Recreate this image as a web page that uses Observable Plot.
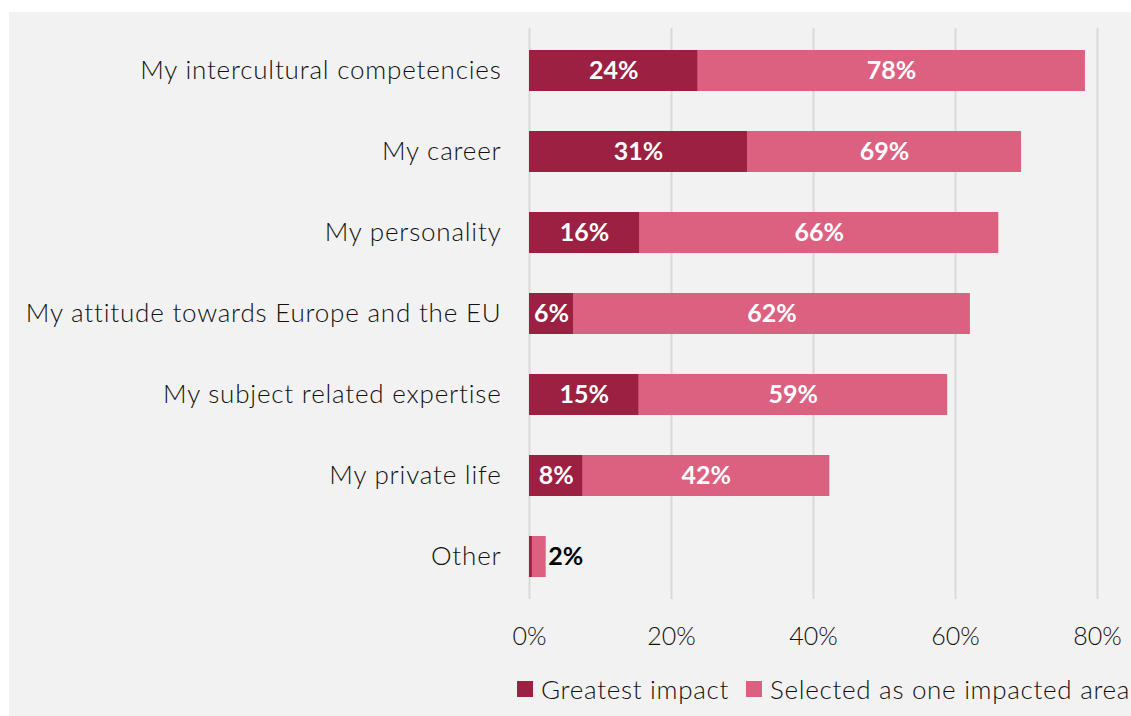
<!DOCTYPE html>
<html>
<head>
<meta charset="utf-8">
<script src="https://cdn.jsdelivr.net/npm/d3@7"></script>
<script src="https://cdn.jsdelivr.net/npm/@observablehq/plot@0.6"></script>
<style>
  body { margin: 0; background: #ffffff; }
  #panel { position: absolute; left: 9px; top: 12px; width: 1122px; height: 704px; background: #f2f2f2; overflow: hidden; font-family: Lato, "Open Sans", sans-serif; }
  #legend { position: absolute; left: 508px; top: 661px; display: flex; align-items: center; font-size: 26px; font-weight: 300; letter-spacing: 0.7px; color: #111111; white-space: nowrap; }
  .sw { width: 16px; height: 16px; display: inline-block; margin-right: 8px; }
  .item { display: flex; align-items: center; margin-right: 17px; }
  .ylab text { letter-spacing: 0.8px; }
</style>
</head>
<body>
<div id="panel">
  <div id="chart"></div>
  <div id="legend"></div>
</div>
<script>
const categories = [
  "My intercultural competencies",
  "My career",
  "My personality",
  "My attitude towards Europe and the EU",
  "My subject related expertise",
  "My private life",
  "Other"
];
const greatestImpact = [23.7, 30.7, 15.5, 6.2, 15.4, 7.5, 0.4];
const selectedArea   = [78.3, 69.3, 66.1, 62.1, 58.9, 42.3, 2.35];
const xTicks = [0, 20, 40, 60, 80];
const seriesNames = ["Greatest impact", "Selected as one impacted area"];
const colors = ["#9b2042", "#dc6181"];

const rows = categories.map((c, i) => ({ cat: c, g: greatestImpact[i], s: selectedArea[i] }));
const inside = rows.filter(d => d.s >= 10);
const outside = rows.filter(d => d.s < 10);
const darkLabels = rows.filter(d => d.g >= 3);

const chart = Plot.plot({
  width: 1122,
  height: 647,
  marginLeft: 520,
  marginRight: 34,
  marginTop: 16,
  marginBottom: 60,
  style: { background: "transparent", fontFamily: "Lato, 'Open Sans', sans-serif", color: "#111111" },
  x: { domain: [0, 80], ticks: xTicks, tickFormat: d => d + "%", label: null },
  y: { domain: categories, label: null, paddingInner: 0.5, paddingOuter: 0.25 },
  marks: [
    Plot.gridX(xTicks, { stroke: "#d9d9d9", strokeOpacity: 1, strokeWidth: 2 }),
    Plot.barX(rows, { y: "cat", x1: 0, x2: "s", fill: colors[1] }),
    Plot.barX(rows, { y: "cat", x1: 0, x2: "g", fill: colors[0] }),
    Plot.text(darkLabels, { y: "cat", x: d => d.g / 2, text: d => Math.round(d.g) + "%", fill: "white", fontWeight: "bold", fontSize: 25 }),
    Plot.text(inside, { y: "cat", x: d => (d.g + d.s) / 2, text: d => Math.round(d.s) + "%", fill: "white", fontWeight: "bold", fontSize: 25 }),
    Plot.text(outside, { y: "cat", x: "s", text: d => Math.round(d.s) + "%", fill: "black", fontWeight: "bold", fontSize: 25, textAnchor: "start", dx: 2 }),
    Plot.axisY({ tickSize: 0, tickPadding: 28, fontSize: 26, fontWeight: 300, fill: "#111111", className: "ylab" }),
    Plot.axisX(xTicks, { tickSize: 0, tickPadding: 28, fontSize: 25, fontWeight: 300, fill: "#111111", tickFormat: d => d + "%" })
  ]
});
document.getElementById("chart").appendChild(chart);

const legend = document.getElementById("legend");
seriesNames.forEach((n, i) => {
  const it = document.createElement("div");
  it.className = "item";
  const sw = document.createElement("span");
  sw.className = "sw";
  sw.style.background = colors[i];
  it.appendChild(sw);
  it.appendChild(document.createTextNode(n));
  legend.appendChild(it);
});
</script>
</body>
</html>
